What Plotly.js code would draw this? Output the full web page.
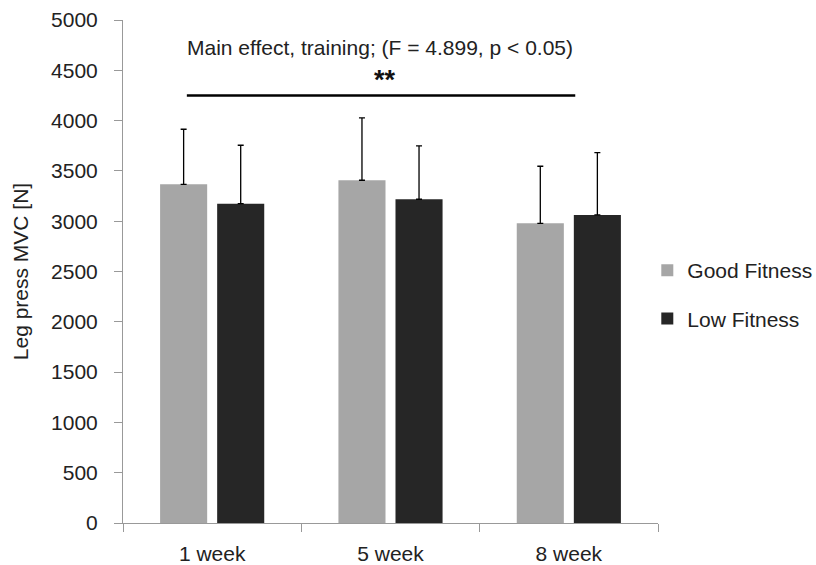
<!DOCTYPE html>
<html><head><meta charset="utf-8">
<script src="https://cdn.plot.ly/plotly-3.0.1.min.js"></script>
<style>html,body{margin:0;padding:0;background:#fff}#chart{width:816px;height:565px}</style>
</head><body><div id="chart"></div>
<script>
const categories = ['1 week', '5 week', '8 week'];
const goodMean = [3367, 3407, 2979];
const goodSD = [547, 620, 567];
const lowMean = [3174, 3218, 3062];
const lowSD = [581, 530, 620];
const yTicks = [0, 500, 1000, 1500, 2000, 2500, 3000, 3500, 4000, 4500, 5000];

const font = 'Liberation Sans, Arial, sans-serif';
const errStyle = (arr) => ({type: 'data', symmetric: false, array: arr, arrayminus: arr.map(() => 0),
  color: '#000', thickness: 1.3, width: 3});

const traces = [
  {type: 'bar', name: 'Good Fitness', x: categories, y: goodMean, marker: {color: '#a6a6a6'},
   error_y: errStyle(goodSD), legendgroup: 'g'},
  {type: 'bar', name: 'Low Fitness', x: categories, y: lowMean, marker: {color: '#262626'},
   error_y: errStyle(lowSD), legendgroup: 'l'}
];

const layout = {
  width: 816, height: 565,
  margin: {l: 123, r: 158, t: 20, b: 42, autoexpand: false},
  paper_bgcolor: '#fff', plot_bgcolor: '#fff',
  font: {family: font, size: 21, color: '#222'},
  barmode: 'group', bargap: 0.36, bargroupgap: 0.175,
  showlegend: true,
  legend: {x: 0.98, xanchor: 'left', y: 0.454, yanchor: 'middle', traceorder: 'grouped',
    tracegroupgap: 18, font: {size: 21, color: '#222'}, itemwidth: 30},
  xaxis: {type: 'category', showline: true, linecolor: '#999', linewidth: 1,
    ticks: 'outside', tickson: 'boundaries', ticklen: 8, tickcolor: '#999',
    showgrid: false, zeroline: false, ticklabelstandoff: 12, tickfont: {size: 21}},
  yaxis: {range: [0, 5000], tickvals: yTicks, showline: true, linecolor: '#999', linewidth: 1,
    ticks: 'outside', ticklen: 8, tickcolor: '#999', showgrid: false, zeroline: false,
    ticklabelstandoff: 12, tickfont: {size: 21},
    title: {text: 'Leg press MVC [N]', font: {size: 21}, standoff: 16}},
  shapes: [{type: 'line', xref: 'x', yref: 'y', x0: -0.142, x1: 2.036, y0: 4250, y1: 4250,
    line: {color: '#000', width: 2.5}}],
  annotations: [
    {xref: 'x', yref: 'y', x: 0.94, y: 4723, text: 'Main effect, training; (F = 4.899, p < 0.05)',
     showarrow: false, font: {size: 21, color: '#222'}},
    {xref: 'x', yref: 'y', x: 0.97, y: 4400, text: '<b>**</b>', showarrow: false,
     font: {size: 27, color: '#111'}}
  ]
};

Plotly.newPlot('chart', traces, layout, {displayModeBar: false, staticPlot: true});
</script></body></html>
